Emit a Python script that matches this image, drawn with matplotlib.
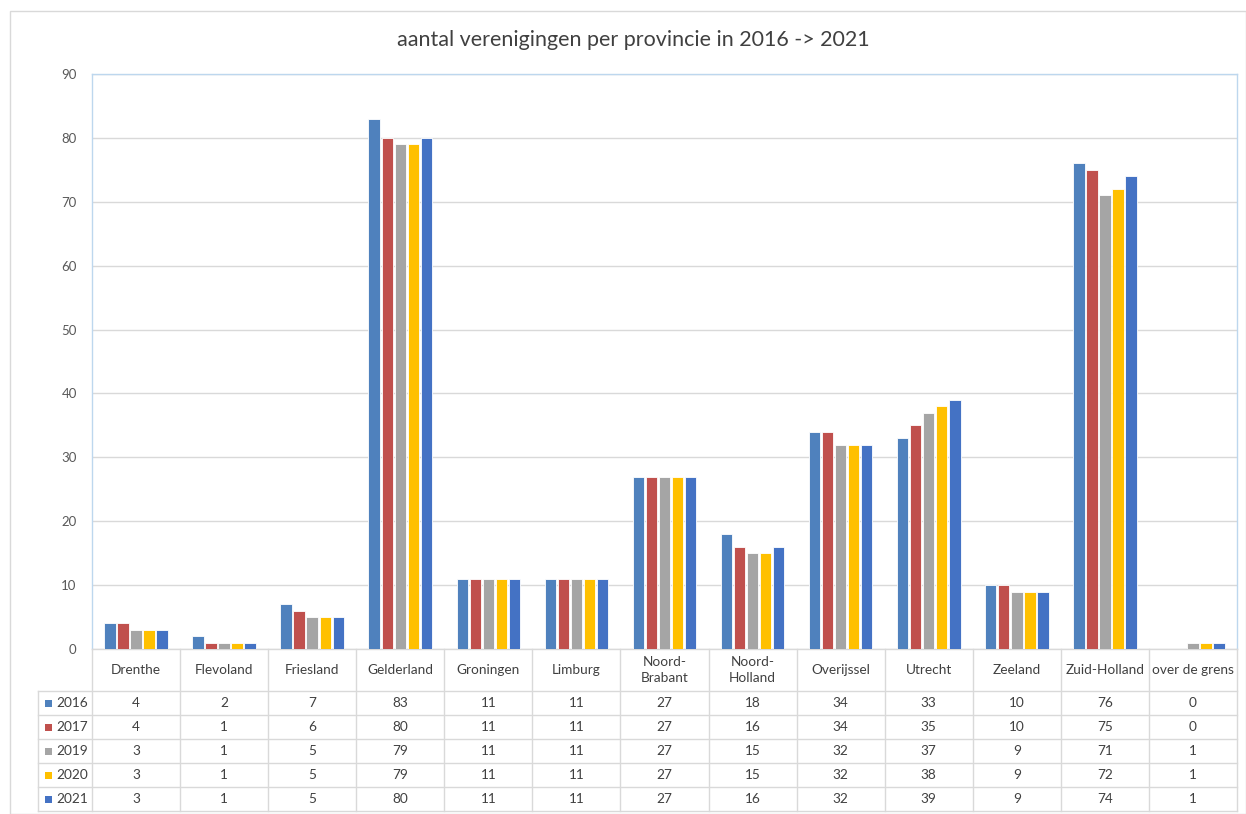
import numpy as np
import matplotlib.pyplot as plt
from matplotlib.transforms import blended_transform_factory

provincies = ["Drenthe", "Flevoland", "Friesland", "Gelderland", "Groningen", "Limburg",
              "Noord-\nBrabant", "Noord-\nHolland", "Overijssel", "Utrecht", "Zeeland",
              "Zuid-Holland", "over de grens"]
jaren = ["2016", "2017", "2019", "2020", "2021"]
v2016 = [4, 2, 7, 83, 11, 11, 27, 18, 34, 33, 10, 76, 0]
v2017 = [4, 1, 6, 80, 11, 11, 27, 16, 34, 35, 10, 75, 0]
v2019 = [3, 1, 5, 79, 11, 11, 27, 15, 32, 37, 9, 71, 1]
v2020 = [3, 1, 5, 79, 11, 11, 27, 15, 32, 38, 9, 72, 1]
v2021 = [3, 1, 5, 80, 11, 11, 27, 16, 32, 39, 9, 74, 1]
series = [v2016, v2017, v2019, v2020, v2021]
kleuren = ["#4F81BD", "#C0504D", "#A5A5A5", "#FFC000", "#4472C4"]

plt.rcParams['font.family'] = ['Lato', 'DejaVu Sans']
W, H = 1246, 814
fig = plt.figure(figsize=(W / 100, H / 100), dpi=100)

def fx(px):
    return px / W

def fy(py):
    return 1 - py / H

# outer chart border
fig.add_artist(plt.Rectangle((fx(10), fy(814)), fx(1246) - fx(10), fy(11) - fy(814),
                             transform=fig.transFigure, fill=False, ec="#D9D9D9", lw=1))

left, right, top, bottom = 92, 1237, 74, 649
ax = fig.add_axes([fx(left), fy(bottom), fx(right) - fx(left), fy(top) - fy(bottom)])

n = len(provincies)
x = np.arange(n)
step = 0.148
bw = 0.13
for i, (vals, kl) in enumerate(zip(series, kleuren)):
    ax.bar(x + (i - 2) * step, vals, width=bw, color=kl, edgecolor="white", linewidth=0.6, zorder=3)

ax.set_xlim(-0.5, n - 0.5)
ax.set_ylim(0, 90)
ax.set_yticks(range(0, 91, 10))
ax.tick_params(axis="y", length=0, labelsize=9.5, colors="#595959", pad=11)
ax.set_xticks([])
ax.grid(axis="y", color="#D9D9D9", linewidth=1, zorder=0)
for s in ax.spines.values():
    s.set_color("#BDD7EE")
    s.set_linewidth(1)
ax.spines["bottom"].set_color("#D9D9D9")

fig.text(0.508, fy(40), "aantal verenigingen per provincie in 2016 -> 2021",
         ha="center", va="center", fontsize=15.5, color="#404040")

# data table below the plot
tr = blended_transform_factory(ax.transData, fig.transFigure)
lijn = dict(color="#D9D9D9", lw=1, clip_on=False)
rijen = [691 + 24 * k for k in range(6)]
table_bottom = 811
# horizontal lines
for r in rijen:
    fig.add_artist(plt.Line2D([fx(38), fx(right)], [fy(r), fy(r)], transform=fig.transFigure, **lijn))
# vertical lines
for k in range(n + 1):
    fig.add_artist(plt.Line2D([k - 0.5, k - 0.5], [fy(bottom), fy(table_bottom)], transform=tr, **lijn))
fig.add_artist(plt.Line2D([fx(38), fx(38)], [fy(691), fy(table_bottom)], transform=fig.transFigure, **lijn))

for j, naam in enumerate(provincies):
    fig.text(j, fy(670), naam, transform=tr, ha="center", va="center",
             fontsize=9.8, color="#404040", linespacing=1.5)
    for i, vals in enumerate(series):
        fig.text(j, fy(703 + 24 * i), str(vals[j]), transform=tr, ha="center", va="center",
                 fontsize=9.8, color="#404040")

for i, (jaar, kl) in enumerate(zip(jaren, kleuren)):
    yc = 703 + 24 * i
    fig.add_artist(plt.Rectangle((fx(45), fy(yc + 3.5)), fx(7), fy(yc - 3.5) - fy(yc + 3.5),
                                 transform=fig.transFigure, color=kl, lw=0))
    fig.text(fx(56), fy(yc), jaar, ha="left", va="center", fontsize=9.8, color="#404040")

fig.savefig("out.png", dpi=100, facecolor="white")
